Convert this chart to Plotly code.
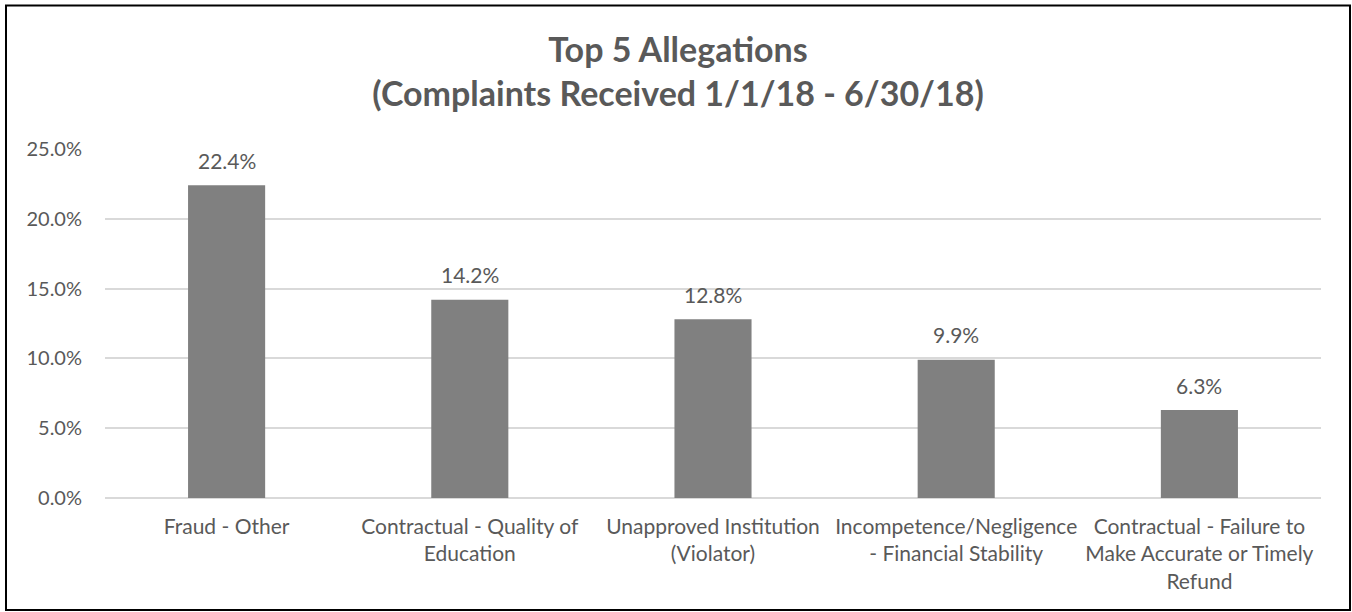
import plotly.graph_objects as go

categories = [
    "Fraud - Other",
    "Contractual - Quality of<br>Education",
    "Unapproved Institution<br>(Violator)",
    "Incompetence/Negligence<br>- Financial Stability",
    "Contractual - Failure to<br>Make Accurate or Timely<br>Refund",
]
values = [0.224, 0.142, 0.128, 0.099, 0.063]
y_ticks = [0.0, 0.05, 0.10, 0.15, 0.20, 0.25]

TEXT = "#595959"
FONT = "Lato"

W, H = 1352, 612
L, R, T, B = 105, 31, 149, 114
pw, ph = W - L - R, H - T - B

def px_x(p):
    return (p - L) / pw

def px_y(p):
    return (H - B - p) / ph

fig = go.Figure()
fig.add_trace(go.Bar(
    x=categories, y=values,
    marker=dict(color="#808080", line=dict(width=0)),
    hoverinfo="skip",
))

for c, v in zip(categories, values):
    fig.add_annotation(
        x=c, y=v, text=f"{v*100:.1f}%", showarrow=False,
        yanchor="middle", yshift=25,
        font=dict(family=FONT, size=21, color=TEXT),
    )

fig.add_shape(
    type="rect", xref="paper", yref="paper",
    x0=px_x(6), x1=px_x(1350), y0=px_y(610), y1=px_y(5.5),
    line=dict(color="#000000", width=2), fillcolor="rgba(0,0,0,0)",
    layer="above",
)

fig.update_layout(
    width=W, height=H,
    margin=dict(l=L, r=R, t=T, b=B, pad=0),
    paper_bgcolor="white", plot_bgcolor="white",
    showlegend=False,
    bargap=0.683,
    title=dict(
        text="<b>Top 5 Allegations<br>(Complaints Received 1/1/18 - 6/30/18)</b>",
        x=678 / W, xanchor="center", xref="container",
        y=1 - 62 / H, yanchor="middle", yref="container",
        font=dict(family=FONT, size=34, color=TEXT),
    ),
    font=dict(family=FONT, size=21, color=TEXT),
    xaxis=dict(
        showline=False, showgrid=False, zeroline=False,
        ticks="", ticklabelstandoff=14,
        tickfont=dict(family=FONT, size=21, color=TEXT),
        fixedrange=True,
    ),
    yaxis=dict(
        range=[0, 0.25], tickvals=y_ticks, tickformat=".1%",
        showgrid=True, gridcolor="#d9d9d9", gridwidth=2,
        zeroline=True, zerolinecolor="#d9d9d9", zerolinewidth=2,
        showline=False, ticks="", ticklabelstandoff=22,
        tickfont=dict(family=FONT, size=20, color=TEXT),
        fixedrange=True,
    ),
)

fig.write_html(
    "out.html",
    config={"displayModeBar": False},
    post_script="document.body.style.margin='0';document.body.style.overflow='hidden';",
)
